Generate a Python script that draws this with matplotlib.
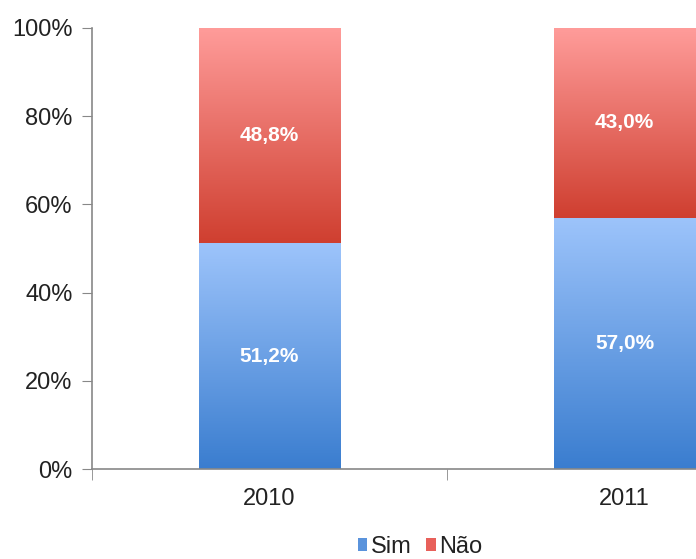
import numpy as np
import matplotlib.pyplot as plt
from matplotlib.patches import Patch
from matplotlib.colors import to_rgb

plt.rcParams['font.family'] = ['Liberation Sans', 'DejaVu Sans']

anos = ["2010", "2011"]
sim = [51.2, 57.0]
nao = [48.8, 43.0]
rotulos_sim = ["51,2%", "57,0%"]
rotulos_nao = ["48,8%", "43,0%"]

azul = ("#3a7dcf", "#9dc4fb")      # base, topo
vermelho = ("#cf3f30", "#ff9c9a")


def gradiente(ax, patch, cores):
    x0, y0 = patch.get_x(), patch.get_y()
    w, h = patch.get_width(), patch.get_height()
    c0, c1 = np.array(to_rgb(cores[0])), np.array(to_rgb(cores[1]))
    t = np.linspace(0, 1, 256)[:, None, None]
    img = c0 + (c1 - c0) * t
    im = ax.imshow(img, extent=(x0, x0 + w, y0, y0 + h), origin='lower',
                   aspect='auto', zorder=2, interpolation='bilinear')
    im.set_clip_path(patch)


fig = plt.figure(figsize=(6.96, 5.59), dpi=100)
ax = fig.add_axes([92 / 696, 90 / 559, 710 / 696, 441 / 559])

x = np.arange(len(anos))
barras_sim = ax.bar(x, sim, width=0.4, color='none', zorder=1)
barras_nao = ax.bar(x, nao, bottom=sim, width=0.4, color='none', zorder=1)

for p in barras_sim:
    gradiente(ax, p, azul)
for p in barras_nao:
    gradiente(ax, p, vermelho)

for i in range(len(anos)):
    ax.text(x[i], sim[i] / 2, rotulos_sim[i], ha='center', va='center',
            color='white', fontsize=15, fontweight='bold', zorder=3)
    ax.text(x[i], sim[i] + nao[i] / 2, rotulos_nao[i], ha='center', va='center',
            color='white', fontsize=15, fontweight='bold', zorder=3)

ax.set_xlim(-0.5, 1.5)
ax.set_ylim(0, 100)
ax.set_yticks(np.arange(0, 101, 20))
ax.set_yticklabels([f"{v}%" for v in range(0, 101, 20)])
ax.set_xticks(x)
ax.set_xticklabels(anos)
ax.set_xticks([-0.5, 0.5, 1.5], minor=True)

ax.tick_params(axis='y', length=7, color='#888888', labelsize=17,
               labelcolor='#222222', pad=7)
ax.tick_params(axis='x', which='major', length=0, labelsize=17,
               labelcolor='#222222', pad=14)
ax.tick_params(axis='x', which='minor', length=8, color='#888888')

for s in ['top', 'right']:
    ax.spines[s].set_visible(False)
for s in ['left', 'bottom']:
    ax.spines[s].set_color('#888888')
    ax.spines[s].set_linewidth(1.2)

handles = [Patch(facecolor='#5a93dc', label='Sim'),
           Patch(facecolor='#e8605a', label='Não')]
fig.legend(handles=handles, loc='center', bbox_to_anchor=(420 / 696, 12 / 559),
           ncol=2, frameon=False, fontsize=17, handlelength=0.42,
           handleheight=0.42, handletextpad=0.15, columnspacing=0.6,
           labelcolor='#222222', borderpad=0.1)

fig.savefig("out.png", dpi=100)
